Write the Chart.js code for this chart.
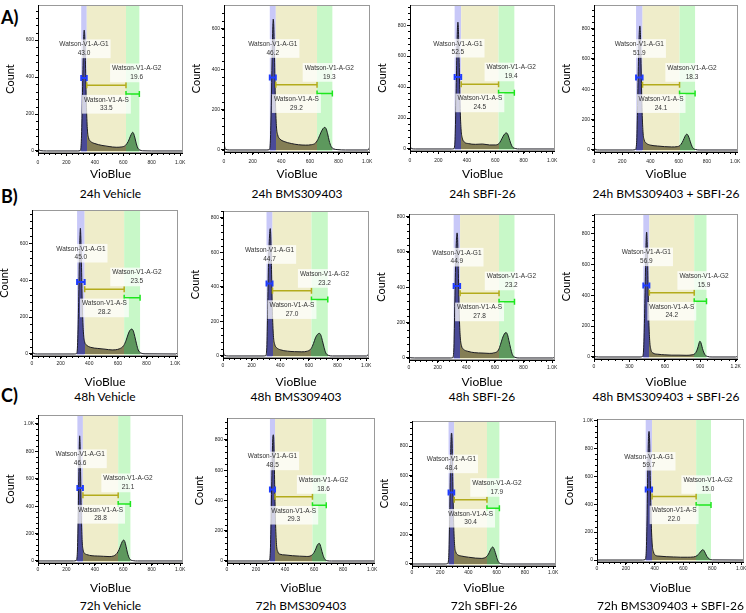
<!DOCTYPE html>
<html>
<head>
<meta charset="utf-8">
<script src="https://cdn.jsdelivr.net/npm/chart.js@4.4.1/dist/chart.umd.min.js"></script>
<style>
  body { margin: 0; background: #fff; width: 746px; height: 613px; position: relative; overflow: hidden; }
  canvas { position: absolute; }
  .cond { position: absolute; width: 220px; font: 12px Lato, sans-serif; line-height: 14px; color: #000; text-align: center; white-space: nowrap; }
  .tag { position: absolute; font: bold 18px Lato, sans-serif; line-height: 22px; color: #000; }
</style>
</head>
<body>
<div class="tag" style="left:1px;top:6px">A)</div>
<div class="tag" style="left:1px;top:185px">B)</div>
<div class="tag" style="left:1px;top:384px">C)</div>
<script>
// tick labels
var xTicks1K = [0, 200, 400, 600, 800, 1000];
var xTicks12 = [0, 300, 600, 900, 1200];
var yTicks = [0, 200, 400, 600, 800, 1000];

// histograms: VioBlue channel (x) and count (y)
var xA1 = [0, 6, 15, 60, 280, 296, 304, 310, 316, 321, 325, 329, 334, 340, 347, 356, 370, 400, 450, 500, 550, 590, 615, 635, 650, 660, 666, 673, 682, 692, 702, 715, 735, 800, 1024];
var cA1 = [14, 8, 2, 0, 0, 2, 40, 200, 440, 610, 654, 620, 470, 260, 120, 70, 52, 40, 30, 24, 20, 22, 30, 52, 80, 96, 101, 94, 70, 38, 16, 6, 1, 0, 0];
var xA2 = [0, 5, 12, 40, 300, 316, 324, 330, 336, 341, 344, 348, 353, 359, 366, 375, 390, 420, 470, 520, 570, 610, 640, 660, 678, 692, 704, 714, 724, 735, 748, 765, 790, 850, 1005, 1015, 1024];
var cA2 = [35, 15, 3, 0, 0, 2, 45, 220, 450, 610, 648, 610, 460, 250, 120, 75, 55, 42, 32, 26, 24, 26, 35, 58, 88, 106, 112, 104, 80, 45, 18, 6, 2, 0, 0, 10, 28];
var xA3 = [0, 5, 12, 40, 290, 308, 316, 322, 328, 333, 337, 341, 346, 352, 359, 368, 382, 410, 460, 510, 560, 600, 625, 640, 655, 667, 677, 687, 697, 708, 720, 740, 770, 1024];
var cA3 = [25, 10, 2, 0, 0, 2, 45, 250, 540, 760, 819, 760, 560, 290, 130, 70, 45, 35, 30, 32, 26, 26, 34, 55, 82, 98, 104, 96, 70, 38, 14, 3, 0, 0];
var xA4 = [0, 5, 12, 40, 275, 292, 302, 308, 314, 320, 325, 329, 334, 340, 347, 356, 370, 400, 450, 500, 550, 590, 610, 625, 638, 648, 657, 667, 677, 688, 700, 720, 750, 1024];
var cA4 = [25, 10, 2, 0, 0, 2, 50, 260, 550, 760, 817, 760, 540, 280, 120, 65, 45, 32, 26, 22, 20, 22, 30, 50, 76, 96, 104, 95, 70, 38, 14, 3, 0, 0];
var xB1 = [0, 5, 12, 40, 295, 311, 318, 325, 331, 335, 338, 341, 346, 352, 359, 368, 382, 410, 460, 510, 560, 610, 640, 658, 672, 684, 697, 708, 718, 730, 742, 760, 790, 1005, 1015, 1024];
var cB1 = [25, 10, 2, 0, 0, 2, 45, 250, 520, 640, 681, 640, 470, 250, 120, 65, 48, 36, 30, 26, 22, 28, 45, 75, 108, 128, 135, 124, 95, 55, 22, 6, 1, 0, 6, 18];
var xB2 = [0, 5, 12, 40, 280, 298, 306, 312, 318, 326, 330, 334, 339, 345, 352, 361, 375, 400, 450, 500, 550, 590, 615, 632, 646, 660, 674, 684, 694, 706, 718, 735, 765, 1005, 1015, 1024];
var cB2 = [40, 15, 3, 0, 0, 2, 50, 270, 540, 710, 738, 690, 500, 260, 120, 68, 48, 36, 28, 25, 24, 28, 42, 72, 105, 125, 131, 120, 90, 50, 18, 4, 0, 0, 10, 25];
var xB3 = [0, 5, 12, 40, 288, 305, 313, 319, 325, 332, 336, 340, 345, 351, 358, 367, 380, 410, 460, 510, 560, 600, 625, 640, 653, 666, 678, 688, 698, 710, 722, 740, 770, 1005, 1015, 1024];
var cB3 = [12, 6, 1, 0, 0, 2, 45, 260, 510, 680, 708, 670, 480, 250, 120, 68, 50, 38, 30, 28, 26, 30, 45, 78, 112, 136, 144, 132, 98, 55, 20, 4, 0, 0, 5, 12];
var xB4 = [0, 40, 390, 410, 420, 428, 435, 441, 446, 451, 457, 464, 472, 482, 500, 540, 600, 660, 720, 780, 830, 855, 870, 882, 890, 897, 905, 914, 925, 940, 960, 1000, 1200, 1210, 1220];
var cB4 = [3, 0, 0, 3, 45, 250, 520, 740, 808, 730, 500, 250, 105, 48, 26, 18, 14, 12, 12, 11, 14, 22, 40, 66, 90, 102, 94, 70, 40, 15, 4, 0, 0, 3, 8];
var xC1 = [0, 250, 268, 276, 282, 287, 291, 293, 296, 300, 305, 311, 318, 328, 345, 380, 420, 460, 500, 530, 555, 570, 582, 592, 598, 604, 611, 619, 628, 638, 650, 670, 700, 1024];
var cC1 = [0, 0, 3, 45, 280, 620, 860, 913, 860, 620, 330, 140, 78, 55, 46, 38, 36, 34, 32, 36, 55, 82, 115, 140, 150, 152, 140, 108, 65, 30, 10, 2, 0, 0];
var xC2 = [0, 270, 290, 298, 304, 310, 315, 319, 323, 328, 334, 341, 350, 365, 400, 450, 500, 550, 580, 600, 612, 622, 630, 635, 642, 650, 660, 672, 690, 720, 1024];
var cC2 = [0, 0, 3, 50, 280, 600, 800, 834, 790, 540, 270, 110, 62, 45, 40, 35, 32, 30, 36, 56, 80, 104, 114, 117, 108, 80, 45, 15, 2, 0, 0];
var xC3 = [0, 235, 252, 260, 266, 271, 276, 280, 284, 289, 295, 302, 310, 325, 350, 400, 450, 490, 515, 530, 542, 552, 560, 566, 572, 580, 590, 600, 612, 630, 660, 1024];
var cC3 = [0, 0, 3, 45, 270, 590, 830, 888, 840, 560, 280, 125, 82, 62, 54, 46, 40, 38, 42, 52, 68, 88, 104, 112, 115, 105, 78, 45, 15, 2, 0, 0];
var xC4 = [0, 315, 333, 341, 347, 352, 357, 361, 365, 370, 376, 383, 392, 405, 430, 480, 530, 580, 630, 670, 695, 710, 722, 730, 735, 742, 752, 764, 778, 800, 1024];
var cC4 = [0, 0, 3, 45, 280, 630, 870, 921, 860, 570, 280, 115, 58, 34, 28, 24, 22, 20, 20, 22, 32, 48, 64, 72, 74, 68, 48, 24, 8, 1, 0];

// gates: G1 start, G1 end / S start, S end / G2 start, G2 end
var gA1 = [304, 343, 619, 713], gA2 = [320, 362, 650, 757], gA3 = [314, 360, 623, 734], gA4 = [298, 344, 606, 716];
var gB1 = [315, 368, 644, 755], gB2 = [304, 346, 618, 732], gB3 = [312, 357, 629, 737], gB4 = [418, 469, 849, 953];
var gC1 = [277, 316, 564, 650], gC2 = [296, 331, 589, 684], gC3 = [259, 299, 531, 619], gC4 = [338, 382, 688, 791];

// gate percentages: G1, S, G2
var pA1 = [43.0, 33.5, 19.6], pA2 = [46.2, 29.2, 19.3], pA3 = [52.5, 24.5, 19.4], pA4 = [51.9, 24.1, 18.3];
var pB1 = [45.0, 28.2, 23.5], pB2 = [44.7, 27.0, 23.2], pB3 = [44.9, 27.8, 23.2], pB4 = [56.9, 24.2, 15.9];
var pC1 = [46.6, 28.8, 21.1], pC2 = [48.5, 29.3, 18.6], pC3 = [48.4, 30.4, 17.9], pC4 = [59.7, 22.0, 15.0];

var titles = ['24h Vehicle', '24h BMS309403', '24h SBFI-26', '24h BMS309403 + SBFI-26',
              '48h Vehicle', '48h BMS309403', '48h SBFI-26', '48h BMS309403 + SBFI-26',
              '72h Vehicle', '72h BMS309403', '72h SBFI-26', '72h BMS309403 + SBFI-26'];
var yMax = [790, 718, 930, 955, 780, 840, 815, 925, 1065, 945, 970, 1010];
var xMax = [1020, 1020, 1020, 1020, 1020, 1020, 1020, 1220, 1020, 1020, 1020, 1020];

var panels = [
  [xA1, cA1, gA1, pA1, xTicks1K], [xA2, cA2, gA2, pA2, xTicks1K], [xA3, cA3, gA3, pA3, xTicks1K], [xA4, cA4, gA4, pA4, xTicks1K],
  [xB1, cB1, gB1, pB1, xTicks1K], [xB2, cB2, gB2, pB2, xTicks1K], [xB3, cB3, gB3, pB3, xTicks1K], [xB4, cB4, gB4, pB4, xTicks12],
  [xC1, cC1, gC1, pC1, xTicks1K], [xC2, cC2, gC2, pC2, xTicks1K], [xC3, cC3, gC3, pC3, xTicks1K], [xC4, cC4, gC4, pC4, xTicks1K]
];

// layout: plot frame left, right, top, bottom in page pixels
var frames = [
  [38, 183, 5, 153], [224, 370, 5, 152], [410, 555, 5, 151], [594, 738, 5, 152],
  [32, 178, 210, 356], [223, 369, 211, 358], [409, 555, 214, 360], [594, 738, 214, 359],
  [38, 183, 415, 563], [227, 375, 418, 563], [412, 556, 421, 566], [597, 744, 419, 562]
];
var rows = [{ vio: 174, cond: 194, tpad: 4 }, { vio: 382, cond: 397, tpad: 2 }, { vio: 588, cond: 606, tpad: 1 }];

var OUT = 'rgba(90,90,90,0.55)', G1F = '#4a4a98', SF = '#847e55', G2F = '#5d985d';
var smallFont = '"Liberation Sans", Arial, sans-serif';

function fmt(v) {
  return v >= 1000 ? (v / 1000).toFixed(1) + 'K' : String(v);
}

function gateBar(ctx, x1, x2, yy, color, lw) {
  ctx.strokeStyle = color;
  ctx.lineWidth = lw;
  ctx.beginPath();
  ctx.moveTo(x1, yy); ctx.lineTo(x2, yy);
  ctx.moveTo(x1, yy - 3); ctx.lineTo(x1, yy + 3);
  ctx.moveTo(x2, yy - 3); ctx.lineTo(x2, yy + 3);
  ctx.stroke();
}

function gateLabel(ctx, cx, yName, yVal, name, val) {
  ctx.font = '6.5px ' + smallFont;
  var w = Math.max(ctx.measureText(name).width, ctx.measureText(val).width) + 4;
  ctx.fillStyle = 'rgba(255,255,255,0.75)';
  ctx.fillRect(cx - w / 2, yName - 5, w, yVal - yName + 10);
  ctx.fillStyle = '#333';
  ctx.textAlign = 'center';
  ctx.textBaseline = 'middle';
  ctx.fillText(name, cx, yName);
  ctx.fillText(val, cx, yVal);
}

function gatePlugin(g, pct, ymax, xmax, xticks) {
  return {
    id: 'gates',
    beforeDatasetsDraw: function(chart) {
      var a = chart.chartArea, sx = chart.scales.x, ctx = chart.ctx;
      var px = g.map(function(v) { return sx.getPixelForValue(v); });
      ctx.save();
      ctx.fillStyle = '#c8c8f8';
      ctx.fillRect(px[0], a.top, px[1] - px[0], a.bottom - a.top);
      ctx.fillStyle = '#efedca';
      ctx.fillRect(px[1], a.top, px[2] - px[1], a.bottom - a.top);
      ctx.fillStyle = '#c8f8c8';
      ctx.fillRect(px[2], a.top, px[3] - px[2], a.bottom - a.top);
      ctx.restore();
    },
    afterDatasetsDraw: function(chart) {
      var a = chart.chartArea, sx = chart.scales.x, sy = chart.scales.y, ctx = chart.ctx;
      var px = g.map(function(v) { return sx.getPixelForValue(v); });
      var yy = function(f) { return sy.getPixelForValue(f * ymax); };
      ctx.save();
      gateBar(ctx, px[0], px[1], yy(0.50), '#1f3cff', 2);
      gateBar(ctx, px[1], px[2], yy(0.45), '#b3ab1c', 1.5);
      gateBar(ctx, px[2], px[3], yy(0.39), '#1ee61e', 1.5);
      gateLabel(ctx, (px[0] + px[1]) / 2, yy(0.73), yy(0.67), 'Watson-V1-A-G1', pct[0].toFixed(1));
      gateLabel(ctx, (px[1] + px[2]) / 2, yy(0.35), yy(0.29), 'Watson-V1-A-S', pct[1].toFixed(1));
      gateLabel(ctx, sx.getPixelForValue(g[2] + 0.8 * (g[3] - g[2])), yy(0.565), yy(0.505), 'Watson-V1-A-G2', pct[2].toFixed(1));
      // frame
      ctx.lineWidth = 1;
      ctx.strokeStyle = '#999';
      ctx.strokeRect(a.left + 0.5, a.top + 0.5, a.right - a.left - 1, a.bottom - a.top - 1);
      ctx.strokeStyle = '#000';
      ctx.beginPath();
      ctx.moveTo(a.left + 0.5, a.top); ctx.lineTo(a.left + 0.5, a.bottom + 0.5);
      ctx.lineTo(a.right, a.bottom + 0.5);
      // minor ticks
      var xs = (xticks[1] - xticks[0]) / 5;
      for (var v = 0; v <= xmax; v += xs) {
        var p = Math.round(sx.getPixelForValue(v)) + 0.5;
        ctx.moveTo(p, a.bottom); ctx.lineTo(p, a.bottom + 2);
      }
      for (var w = 0; w <= ymax; w += 40) {
        var q = Math.round(sy.getPixelForValue(w)) + 0.5;
        ctx.moveTo(a.left, q); ctx.lineTo(a.left - 2, q);
      }
      ctx.stroke();
      ctx.restore();
    }
  };
}

panels.forEach(function(pn, i) {
  var xs = pn[0], ys = pn[1], g = pn[2], pct = pn[3], xticks = pn[4];
  var f = frames[i], row = rows[Math.floor(i / 4)];
  var ymax = yMax[i], xmax = xMax[i];
  var xAxisH = Math.round(row.vio - f[3] + 7);
  var W = 36 + (f[1] - f[0]) + 3;
  var H = 4 + (f[3] - f[2]) + xAxisH;
  var cv = document.createElement('canvas');
  cv.width = W; cv.height = H;
  cv.style.left = (f[0] - 36) + 'px';
  cv.style.top = (f[2] - 4) + 'px';
  cv.style.width = W + 'px';
  cv.style.height = H + 'px';
  document.body.appendChild(cv);

  var lab = document.createElement('div');
  lab.className = 'cond';
  lab.textContent = titles[i];
  lab.style.left = ((f[0] + f[1]) / 2 - 110) + 'px';
  lab.style.top = (row.cond - 7) + 'px';
  document.body.appendChild(lab);

  new Chart(cv, {
    type: 'line',
    data: {
      datasets: [{
        data: xs.map(function(v, k) { return { x: v, y: ys[k] }; }),
        borderColor: '#1b1b22',
        borderWidth: 1,
        pointRadius: 0,
        cubicInterpolationMode: 'monotone',
        fill: 'origin',
        backgroundColor: function(c) {
          var ch = c.chart, a = ch.chartArea;
          if (!a || !ch.scales.x) return OUT;
          var sx = ch.scales.x, wd = a.right - a.left;
          var t = function(v) { return Math.min(1, Math.max(0, (sx.getPixelForValue(v) - a.left) / wd)); };
          var grd = ch.ctx.createLinearGradient(a.left, 0, a.right, 0);
          grd.addColorStop(0, OUT);
          grd.addColorStop(t(g[0]), OUT);
          grd.addColorStop(t(g[0]), G1F);
          grd.addColorStop(t(g[1]), G1F);
          grd.addColorStop(t(g[1]), SF);
          grd.addColorStop(t(g[2]), SF);
          grd.addColorStop(t(g[2]), G2F);
          grd.addColorStop(t(g[3]), G2F);
          grd.addColorStop(t(g[3]), OUT);
          grd.addColorStop(1, OUT);
          return grd;
        }
      }]
    },
    options: {
      responsive: false,
      devicePixelRatio: 1,
      animation: false,
      events: [],
      layout: { padding: { top: 4, right: 3, left: 0, bottom: 0 } },
      plugins: { legend: { display: false }, tooltip: { enabled: false } },
      scales: {
        x: {
          type: 'linear', min: 0, max: xmax,
          afterBuildTicks: function(s) { s.ticks = xticks.map(function(v) { return { value: v }; }); },
          afterFit: function(s) { s.height = xAxisH; s.paddingLeft = 0; s.paddingRight = 0; },
          ticks: { font: { size: 5, family: smallFont }, color: '#222', padding: row.tpad, maxRotation: 0, autoSkip: false, callback: fmt },
          grid: { drawOnChartArea: false, tickLength: 3, color: '#000' },
          border: { display: false },
          title: { display: true, text: 'VioBlue', font: { size: 12, family: 'Lato' }, color: '#000', padding: { top: 0, bottom: 0 } }
        },
        y: {
          min: -0.014 * ymax, max: ymax,
          afterBuildTicks: function(s) { s.ticks = yTicks.filter(function(v) { return v <= ymax; }).map(function(v) { return { value: v }; }); },
          afterFit: function(s) { s.width = 36; s.paddingTop = 0; s.paddingBottom = 0; },
          ticks: { font: { size: 5, family: smallFont }, color: '#222', padding: 1, callback: fmt },
          grid: { drawOnChartArea: false, tickLength: 3, color: '#000' },
          border: { display: false },
          title: { display: true, text: 'Count', font: { size: 11, family: 'Lato' }, color: '#000', padding: { top: 2, bottom: 0 } }
        }
      }
    },
    plugins: [gatePlugin(g, pct, ymax, xmax, xticks)]
  });
});
</script>
</body>
</html>
